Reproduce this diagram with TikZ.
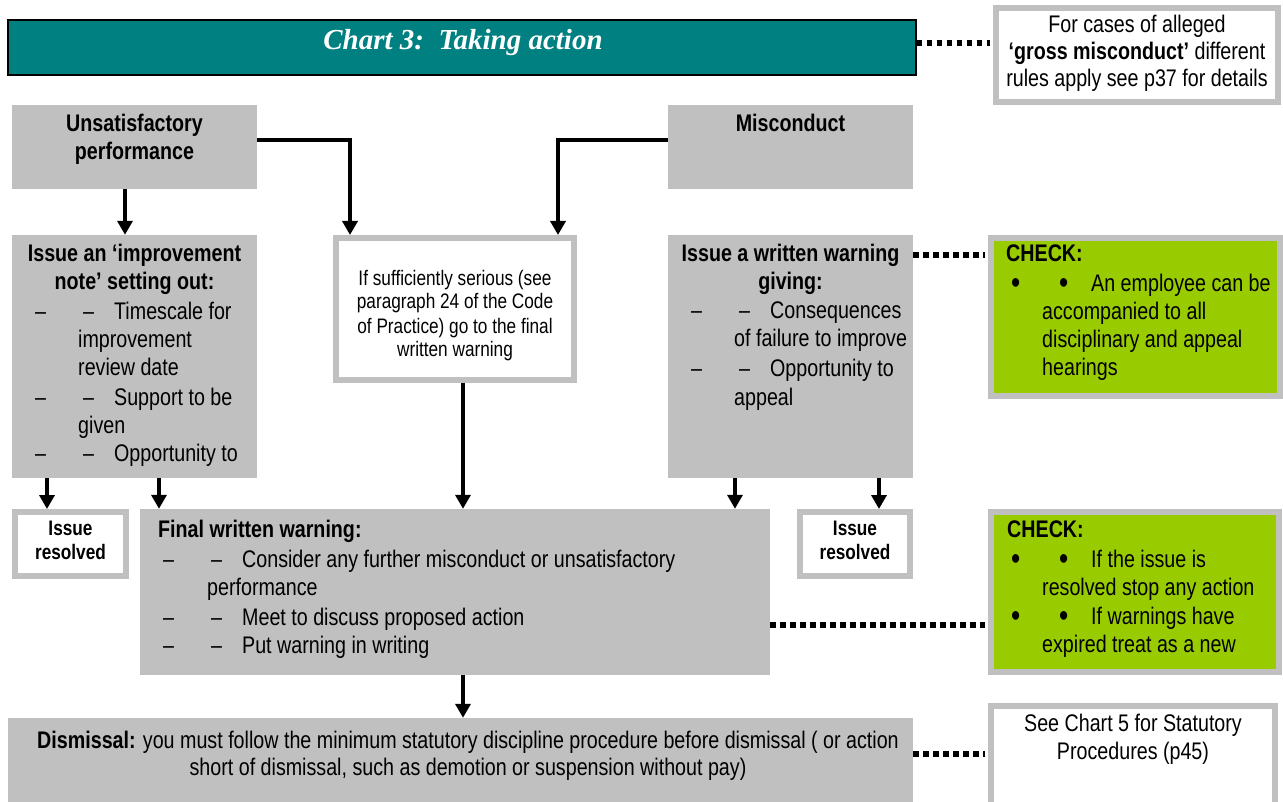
\documentclass[tikz,border=0pt]{standalone}
\usepackage{fontspec}
\setmainfont{Liberation Sans}[FakeStretch=0.82]
\newfontfamily\titlefont{Liberation Serif}
\usetikzlibrary{arrows.meta, shadows}
\definecolor{boxgrey}{RGB}{192,192,192}
\definecolor{chartteal}{RGB}{0,128,128}
\definecolor{checkgreen}{RGB}{153,204,0}
\newcommand{\bigsize}{\fontsize{24}{28}\selectfont}
\newcommand{\midsize}{\fontsize{21}{24}\selectfont}
\newcommand{\bigdot}{\raisebox{-2pt}{\fontsize{32}{28}\selectfont•}}
\tikzset{
greybox/.style={fill=boxgrey, draw=none, inner sep=0pt}, % plain grey boxes
framebox/.style={fill=white, draw=boxgrey, line width=6pt, inner sep=0pt}, % white boxes with grey frame
checkbox/.style={fill=checkgreen, draw=boxgrey, line width=6pt, inner sep=0pt}, % the green CHECK boxes
arr/.style={line width=4pt, -{Triangle[length=14pt,width=15pt]}}, % thick arrows
dots/.style={line width=5.5pt, dash pattern=on 5.5pt off 4.5pt, shorten >=3pt}, % square dotted links
lines/.style={inner sep=0pt, anchor=base west, align=left, font=\bigsize}, % list text, placed at its last line
head/.style={inner sep=0pt, anchor=base, align=center, font=\bigsize\bfseries}, % centred headings, placed at last line
}

\begin{document}
\begin{tikzpicture}[x=1pt, y=-1pt]
    \useasboundingbox (0,0) rectangle (1283,802);
    \clip (0,0) rectangle (1283,802);
    % boxes
    \node[fill=chartteal, draw=black, line width=1.2pt, minimum width=908pt, minimum height=55pt,
      drop shadow={shadow xshift=1.2pt, shadow yshift=-1.2pt, opacity=1, fill=black}] (title) at (462,47.5) {};
    \node[framebox, minimum width=282pt, minimum height=94pt] (gross) at (1137,55) {};
    \node[greybox, minimum width=245pt, minimum height=84pt] (unsat) at (134.5,147) {};
    \node[greybox, minimum width=245pt, minimum height=84pt] (misconduct) at (790.5,147) {};
    \node[greybox, minimum width=245pt, minimum height=243pt] (impnote) at (134.5,356.5) {};
    \node[framebox, minimum width=238pt, minimum height=142pt] (serious) at (455,309) {};
    \node[greybox, minimum width=245pt, minimum height=243pt] (warning) at (790.5,356.5) {};
    \node[checkbox, minimum width=289pt, minimum height=158pt] (check1) at (1135.5,317) {};
    \node[framebox, minimum width=111pt, minimum height=64pt] (resolved1) at (70.5,544) {};
    \node[framebox, minimum width=110pt, minimum height=64pt] (resolved2) at (855,544) {};
    \node[greybox, minimum width=630pt, minimum height=166pt] (final) at (455,592) {};
    \node[checkbox, minimum width=288pt, minimum height=160pt] (check2) at (1135,592) {};
    \node[greybox, minimum width=905pt, minimum height=87pt] (dismissal) at (460.5,761.5) {};
    \node[framebox, minimum width=284pt, minimum height=104pt] (seechart) at (1133,758) {};

    % arrows
    \draw[arr] ([xshift=-9.5pt]unsat.south) -- ([xshift=-9.5pt]impnote.north);
    \draw[arr] ([yshift=7pt]unsat.east) -| ([xshift=-105pt]serious.north);
    \draw[arr] ([yshift=7pt]misconduct.west) -| ([xshift=103pt]serious.north);
    \draw[arr] ([xshift=-87.5pt]impnote.south) -- ([xshift=-23.5pt]resolved1.north);
    \draw[arr] ([xshift=24.5pt]impnote.south) -- ([xshift=-296pt]final.north);
    \draw[arr] ([xshift=8pt]serious.south) -- ([xshift=8pt]final.north);
    \draw[arr] ([xshift=-55.5pt]warning.south) -- ([xshift=280pt]final.north);
    \draw[arr] ([xshift=88.5pt]warning.south) -- ([xshift=24pt]resolved2.north);
    \draw[arr] ([xshift=8pt]final.south) -- ([xshift=2.5pt]dismissal.north);

    % dotted links
    \draw[dots] ([yshift=4.5pt]title.east) -- ([yshift=12pt]gross.west);
    \draw[dots] ([yshift=101.5pt]warning.east) -- ([yshift=62pt]check1.west);
    \draw[dots] ([yshift=-33pt]final.east) -- ([yshift=-33pt]check2.west);
    \draw[dots] ([yshift=7.5pt]dismissal.east) -- ([yshift=4pt]seechart.west);

    % texts
    \node[anchor=base, inner sep=0pt, text=white, font=\titlefont\fontsize{29}{34}\selectfont\bfseries\itshape] (titletext) at (463,50) {Chart 3:\ \ Taking action};
    \node[head, font=\fontsize{24}{27}\selectfont] (grosstext) at (1137,87) {For cases of alleged\\\textbf{‘gross misconduct’} different\\rules apply see p37 for details};
    \node[head] (unsattext) at (134.5,160) {Unsatisfactory\\performance};
    \node[head] (misctext) at (790.5,132) {Misconduct};
    \node[head] (imphead) at (134.5,290) {Issue an ‘improvement\\note’ setting out:};
    \node[lines] (implist) at (35,461) {\makebox[48pt][l]{–}\makebox[31pt][l]{–}Timescale for\\
      \hspace*{43pt}improvement\\
      \hspace*{43pt}review date\\[2pt]
      \makebox[48pt][l]{–}\makebox[31pt][l]{–}Support to be\\
      \hspace*{43pt}given\\
      \makebox[48pt][l]{–}\makebox[31pt][l]{–}Opportunity to};
    \node[head, font=\midsize] (serioustext) at (455,357) {If sufficiently serious (see\\paragraph 24 of the Code\\of Practice) go to the final\\written warning};
    \node[head] (warnhead) at (790.5,290) {Issue a written warning\\giving:};
    \node[lines] (warnlist) at (691,405) {\makebox[48pt][l]{–}\makebox[31pt][l]{–}Consequences\\
      \hspace*{43pt}of failure to improve\\[2pt]
      \makebox[48pt][l]{–}\makebox[31pt][l]{–}Opportunity to\\
      \hspace*{43pt}appeal};
    \node[lines, font=\bigsize\bfseries] (check1head) at (1006,262) {CHECK:};
    \node[lines] (check1list) at (1011,376) {\makebox[48pt][l]{\bigdot}\makebox[32pt][l]{\bigdot}An employee can be\\
      \hspace*{31pt}accompanied to all\\
      \hspace*{31pt}disciplinary and appeal\\
      \hspace*{31pt}hearings};
    \node[head, font=\midsize\bfseries] (res1text) at (70.5,559) {Issue\\resolved};
    \node[head, font=\midsize\bfseries] (res2text) at (855,559) {Issue\\resolved};
    \node[lines, font=\bigsize\bfseries] (finalhead) at (158,537) {Final written warning:};
    \node[lines] (finallist) at (163,653) {\makebox[48pt][l]{–}\makebox[31pt][l]{–}Consider any further misconduct or unsatisfactory\\
      \hspace*{44pt}performance\\[2pt]
      \makebox[48pt][l]{–}\makebox[31pt][l]{–}Meet to discuss proposed action\\
      \makebox[48pt][l]{–}\makebox[31pt][l]{–}Put warning in writing};
    \node[lines, font=\bigsize\bfseries] (check2head) at (1007,537) {CHECK:};
    \node[lines] (check2list) at (1011,652) {\makebox[48pt][l]{\bigdot}\makebox[32pt][l]{\bigdot}If the issue is\\
      \hspace*{31pt}resolved stop any action\\[1pt]
      \makebox[48pt][l]{\bigdot}\makebox[32pt][l]{\bigdot}If warnings have\\
      \hspace*{31pt}expired treat as a new};
    \node[head, font=\fontsize{24}{27}\selectfont] (dismisstext) at (468,775) {\textbf{Dismissal:} you must follow the minimum statutory discipline procedure before dismissal ( or action\\short of dismissal, such as demotion or suspension without pay)};
    \node[head, font=\fontsize{24}{28}\selectfont] (seetext) at (1133,759) {See Chart 5 for Statutory\\Procedures (p45)};
\end{tikzpicture}
\end{document}
